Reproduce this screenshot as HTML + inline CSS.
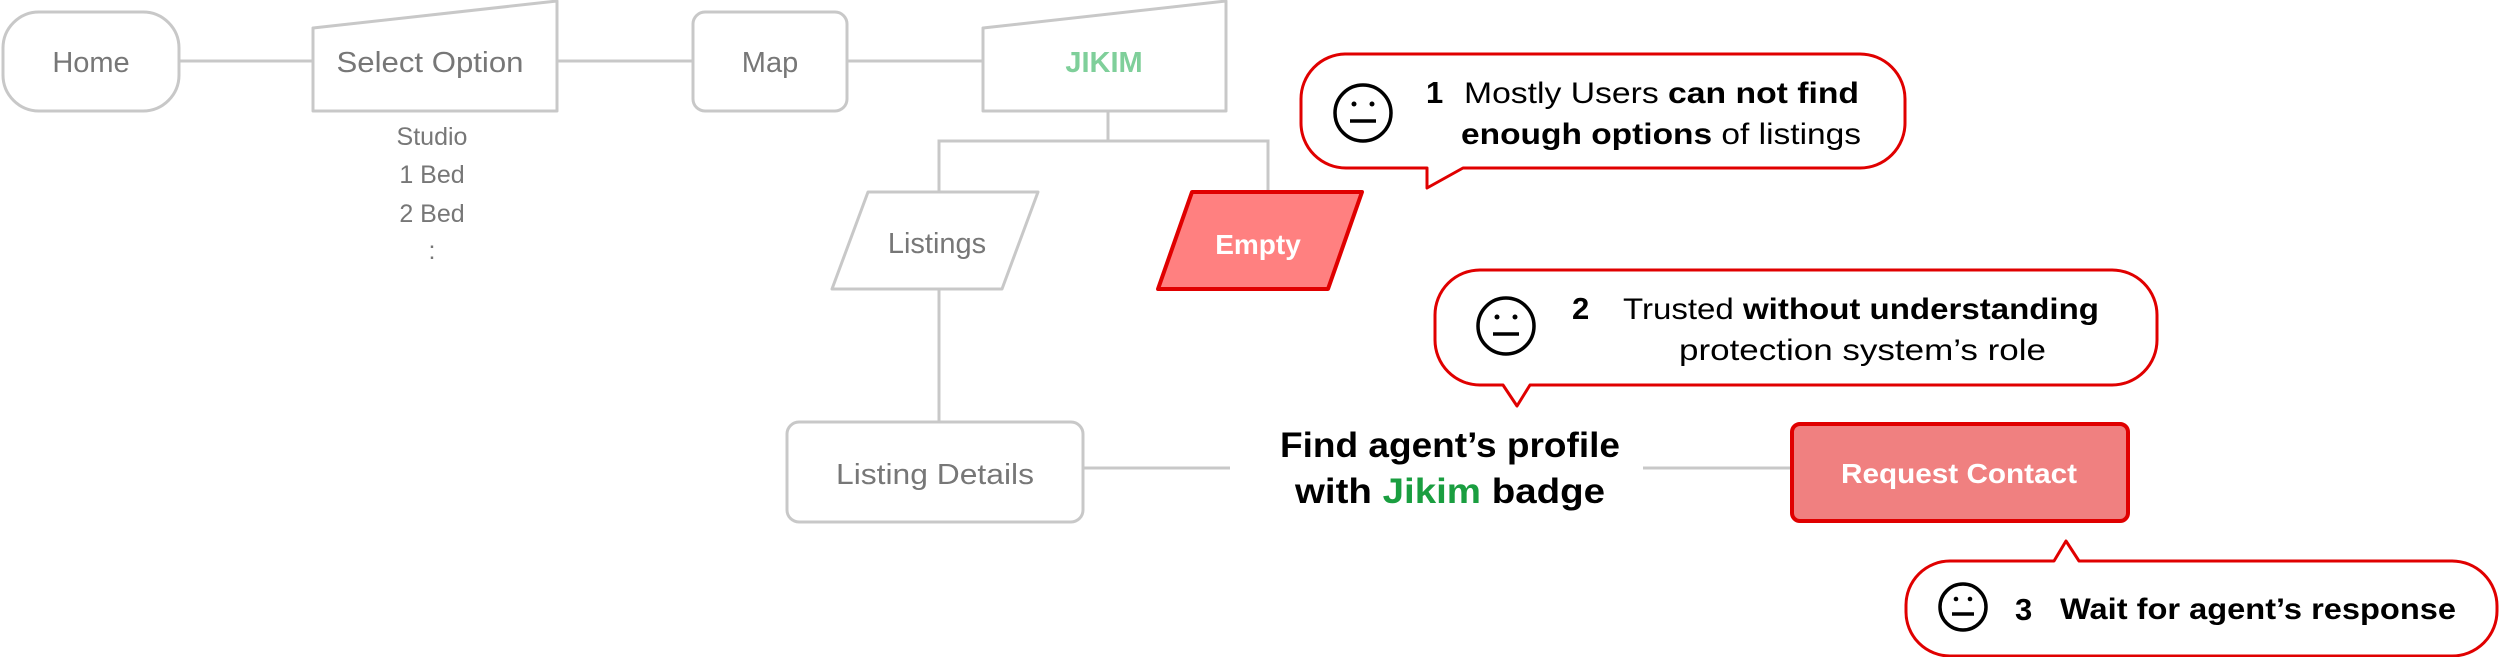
<!DOCTYPE html>
<html><head><meta charset="utf-8"><style>
html,body{margin:0;padding:0;background:#fff;}
svg{display:block;}
text{font-family:"Liberation Sans",Arial,sans-serif;}
</style></head><body>
<svg width="2500" height="657" viewBox="0 0 2500 657" xmlns="http://www.w3.org/2000/svg">
<g fill="none" stroke="#c8c8c8" stroke-width="3">
  <line x1="179" y1="61" x2="312" y2="61"/>
  <line x1="558" y1="61" x2="693" y2="61"/>
  <line x1="847" y1="61" x2="982" y2="61"/>
  <path d="M1108 111 V141 M939 192 V141 H1268 V192"/>
  <line x1="939" y1="289" x2="939" y2="422"/>
  <line x1="1083" y1="468" x2="1230" y2="468"/>
  <line x1="1643" y1="468" x2="1790" y2="468"/>
  <rect x="3" y="12" width="176" height="99" rx="36" fill="#fff"/>
  <path d="M313 28 L557 1 V111 H313 Z" fill="#fff" stroke-linejoin="round"/>
  <rect x="693" y="12" width="154" height="99" rx="12" fill="#fff"/>
  <path d="M983 28 L1226 1 V111 H983 Z" fill="#fff" stroke-linejoin="round"/>
  <path d="M868 192 H1038 L1002 289 H832 Z" fill="#fff" stroke-linejoin="round"/>
  <rect x="787" y="422" width="296" height="100" rx="12" fill="#fff"/>
</g>
<path d="M1192 192 H1362 L1328 289 H1158 Z" fill="#ff8080" stroke="#e00000" stroke-width="4" stroke-linejoin="round"/>
<rect x="1792" y="424" width="336" height="97" rx="8" fill="#f08080" stroke="#e00000" stroke-width="4"/>

<g font-size="29" fill="#777" text-anchor="middle">
  <text x="91" y="72">Home</text>
  <text x="430" y="72" textLength="187" lengthAdjust="spacingAndGlyphs">Select Option</text>
  <text x="770" y="72">Map</text>
  <text x="937" y="253">Listings</text>
  <text x="935" y="484" textLength="198" lengthAdjust="spacingAndGlyphs">Listing Details</text>
  <g font-size="25"><text x="432" y="145">Studio</text><text x="432" y="183">1 Bed</text><text x="432" y="222">2 Bed</text><text x="432" y="259">:</text></g>
</g>
<text x="1104" y="72" font-size="29" font-weight="bold" fill="#7fcf9a" text-anchor="middle">JIKIM</text>
<text x="1258" y="254" font-size="28" font-weight="bold" fill="#fff" text-anchor="middle">Empty</text>
<text x="1959" y="483" font-size="28" font-weight="bold" fill="#fff" text-anchor="middle" textLength="236" lengthAdjust="spacingAndGlyphs">Request Contact</text>
<g font-size="35" font-weight="bold" fill="#000" text-anchor="middle">
  <text x="1450" y="457" textLength="340" lengthAdjust="spacingAndGlyphs">Find agent’s profile</text>
  <text x="1450" y="503" textLength="310" lengthAdjust="spacingAndGlyphs">with <tspan fill="#1a9e40">Jikim</tspan> badge</text>
</g>

<!-- bubble 1 -->
<path d="M1345 54 H1860 A45 45 0 0 1 1905 99 V123 A45 45 0 0 1 1860 168 H1463 L1427 188 L1427 168 H1346 A45 45 0 0 1 1301 123 V99 A45 45 0 0 1 1345 54 Z" fill="#fff" stroke="#e00000" stroke-width="3" stroke-linejoin="round"/>
<g stroke="#000" stroke-width="3.5" fill="none"><circle cx="1363" cy="113" r="28"/><line x1="1350" y1="121" x2="1376" y2="121"/></g>
<circle cx="1354" cy="104" r="2.5"/><circle cx="1372" cy="104" r="2.5"/>
<text font-size="31" fill="#000"><tspan x="1426" y="103" font-weight="bold">1</tspan></text>
<text font-size="30" fill="#000" x="1464" y="103" textLength="395" lengthAdjust="spacingAndGlyphs">Mostly Users <tspan font-weight="bold">can not find</tspan></text>
<text font-size="30" fill="#000" x="1461" y="144" textLength="400" lengthAdjust="spacingAndGlyphs"><tspan font-weight="bold">enough options</tspan> of listings</text>

<!-- bubble 2 -->
<path d="M1480 270 H2112 A45 45 0 0 1 2157 315 V340 A45 45 0 0 1 2112 385 H1530 L1517 406 L1503 385 H1480 A45 45 0 0 1 1435 340 V315 A45 45 0 0 1 1480 270 Z" fill="#fff" stroke="#e00000" stroke-width="3" stroke-linejoin="round"/>
<g stroke="#000" stroke-width="3.5" fill="none"><circle cx="1506" cy="326" r="28"/><line x1="1493" y1="334" x2="1519" y2="334"/></g>
<circle cx="1497" cy="317" r="2.5"/><circle cx="1515" cy="317" r="2.5"/>
<text font-size="31" fill="#000" font-weight="bold" x="1572" y="319">2</text>
<text font-size="30" fill="#000" x="1623" y="319" textLength="476" lengthAdjust="spacingAndGlyphs">Trusted <tspan font-weight="bold">without understanding</tspan></text>
<text font-size="30" fill="#000" x="1679" y="360" textLength="367" lengthAdjust="spacingAndGlyphs">protection system’s role</text>

<!-- bubble 3 -->
<path d="M1950 561 H2054 L2066 541 L2079 561 H2452 A45 45 0 0 1 2497 606 V611 A45 45 0 0 1 2452 656 H1950 A44 44 0 0 1 1906 612 V605 A44 44 0 0 1 1950 561 Z" fill="#fff" stroke="#e00000" stroke-width="3" stroke-linejoin="round"/>
<g stroke="#000" stroke-width="3.5" fill="none"><circle cx="1963" cy="607" r="23"/><line x1="1952" y1="614" x2="1974" y2="614"/></g>
<circle cx="1956" cy="599" r="2.3"/><circle cx="1970" cy="599" r="2.3"/>
<text font-size="31" fill="#000" font-weight="bold" x="2015" y="620">3</text>
<text font-size="30" fill="#000" font-weight="bold" x="2060" y="619" textLength="396" lengthAdjust="spacingAndGlyphs">Wait for agent’s response</text>
</svg>
</body></html>
